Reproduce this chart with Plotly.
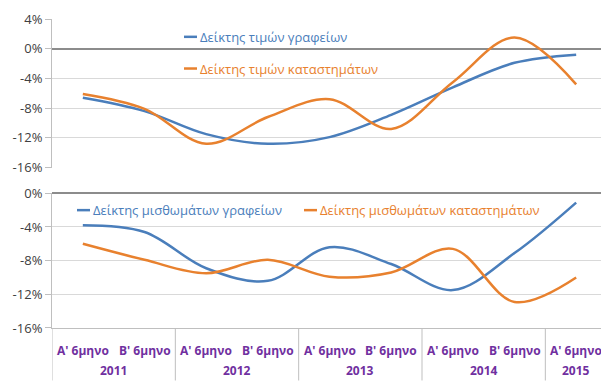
import plotly.graph_objects as go
from plotly.subplots import make_subplots

halves = ["A' 6μηνο", "B' 6μηνο"] * 4 + ["A' 6μηνο"]
years = ["2011", "2012", "2013", "2014", "2015"]
year_span = [2, 2, 2, 2, 1]

office_price = [-6.6, -8.4, -11.5, -12.8, -11.9, -8.9, -5.2, -1.9, -0.8]
shop_price = [-6.1, -8.1, -12.8, -9.2, -6.8, -10.8, -4.5, 1.5, -4.8]
office_rent = [-3.8, -4.6, -8.9, -10.4, -6.4, -8.4, -11.5, -7.1, -1.1]
shop_rent = [-6.0, -7.9, -9.5, -7.9, -9.9, -9.4, -6.6, -12.9, -10.0]

top_ticks = [4, 0, -4, -8, -12, -16]
bot_ticks = [0, -4, -8, -12, -16]

BLUE = "#4A7EBB"
ORANGE = "#E8812E"
PURPLE = "#7030A0"
FONT = "Open Sans"

x = list(range(len(halves)))

fig = make_subplots(rows=2, cols=1, shared_xaxes=True, vertical_spacing=0)

fig.add_trace(go.Scatter(x=x, y=office_price, mode="lines",
                         line=dict(color=BLUE, width=2.5, shape="spline", smoothing=1.0),
                         name="Δείκτης τιμών γραφείων"), row=1, col=1)
fig.add_trace(go.Scatter(x=x, y=shop_price, mode="lines",
                         line=dict(color=ORANGE, width=2.5, shape="spline", smoothing=1.0),
                         name="Δείκτης τιμών καταστημάτων"), row=1, col=1)
fig.add_trace(go.Scatter(x=x, y=office_rent, mode="lines",
                         line=dict(color=BLUE, width=2.5, shape="spline", smoothing=1.0),
                         name="Δείκτης μισθωμάτων γραφείων"), row=2, col=1)
fig.add_trace(go.Scatter(x=x, y=shop_rent, mode="lines",
                         line=dict(color=ORANGE, width=2.5, shape="spline", smoothing=1.0),
                         name="Δείκτης μισθωμάτων καταστημάτων"), row=2, col=1)

# page has an 8px body margin; the figure starts at (8, 8)
OFF = 8
W, H = 609 - OFF, 381 - OFF
ml, mr, mt, mb = 52 - OFF, 2, 16 - OFF, 53
ph = H - mt - mb  # 312
pw = W - ml - mr


def py(ypx):
    """page pixel y -> paper fraction"""
    return (mt + OFF + ph - ypx) / ph


def px(xpx):
    return (xpx - ml - OFF) / pw


top_lo = py(166)
bot_hi = py(192)

yax_common = dict(ticks="outside", ticklen=6, tickcolor="#BFBFBF",
                  showgrid=True, gridcolor="#D9D9D9", gridwidth=1,
                  zeroline=True, zerolinecolor="#8C8C8C", zerolinewidth=1.5,
                  showline=True, linecolor="#BFBFBF", linewidth=1,
                  tickfont=dict(family=FONT, size=13, color="#404040"),
                  fixedrange=True)

fig.update_layout(
    width=W, height=H,
    margin=dict(l=ml, r=mr, t=mt, b=mb),
    paper_bgcolor="white", plot_bgcolor="white",
    showlegend=False,
    font=dict(family=FONT),
    yaxis=dict(range=[-16, 4], tickvals=top_ticks, ticktext=[f"{v}%" for v in top_ticks],
               domain=[top_lo, 1], **yax_common),
    yaxis2=dict(range=[-16, 0], tickvals=bot_ticks, ticktext=[f"{v}%" for v in bot_ticks],
                domain=[0, bot_hi], **yax_common),
    xaxis=dict(range=[-0.5, len(halves) - 0.5], showticklabels=False, showgrid=False,
               zeroline=False, showline=False, ticks=""),
    xaxis2=dict(range=[-0.5, len(halves) - 0.5], showticklabels=False, showgrid=False,
                zeroline=False, showline=True, linecolor="#BFBFBF", linewidth=1, ticks=""),
)

shapes = []
annotations = []

# category labels
for i, h in enumerate(halves):
    annotations.append(dict(x=i, y=py(351), xref="x2", yref="paper", text=h,
                            showarrow=False, yanchor="middle",
                            font=dict(family=FONT, size=12, color=PURPLE, weight="bold")))
start = 0
bounds = [-0.5]
for yr, sp in zip(years, year_span):
    cx = start + (sp - 1) / 2
    annotations.append(dict(x=cx, y=py(371), xref="x2", yref="paper", text=yr,
                            showarrow=False, yanchor="middle",
                            font=dict(family=FONT, size=12, color=PURPLE, weight="bold")))
    start += sp
    bounds.append(start - 0.5)
for b in bounds:
    shapes.append(dict(type="line", xref="x2", yref="paper", x0=b, x1=b, y0=0, y1=py(381),
                       line=dict(color="#BFBFBF", width=1)))


# in-plot legends
def legend_item(xpx, ypx, text, color):
    shapes.append(dict(type="line", xref="paper", yref="paper", x0=px(xpx), x1=px(xpx + 13),
                       y0=py(ypx), y1=py(ypx), line=dict(color=color, width=2.5)))
    annotations.append(dict(x=px(xpx + 14), y=py(ypx), xref="paper", yref="paper", text=text,
                            xanchor="left", yanchor="middle", showarrow=False,
                            font=dict(family=FONT, size=13, color=color)))


legend_item(184, 34, "Δείκτης τιμών γραφείων", BLUE)
legend_item(184, 66, "Δείκτης τιμών καταστημάτων", ORANGE)
legend_item(77, 209, "Δείκτης μισθωμάτων γραφείων", BLUE)
legend_item(304, 209, "Δείκτης μισθωμάτων καταστημάτων", ORANGE)

fig.update_layout(shapes=shapes, annotations=annotations)

fig.write_html("out.html")
